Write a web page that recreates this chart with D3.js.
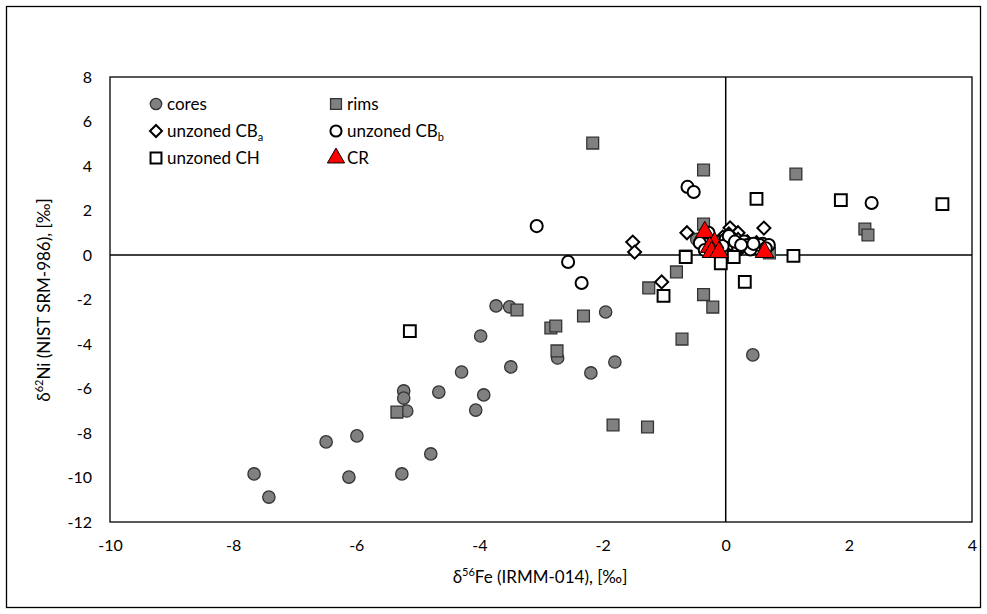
<!DOCTYPE html>
<html lang="en">
<head>
<meta charset="utf-8">
<title>Fe-Ni isotopes</title>
<script src="https://cdn.jsdelivr.net/npm/d3@7"></script>
<style>
  body { margin: 0; background: #fff; }
  text { font-family: Lato, "Open Sans", sans-serif; fill: #000; }
</style>
</head>
<body>
<script>
// series values [d56Fe, d62Ni]
var cores = [[-3.73,-2.29],[-3.51,-2.33],[-3.98,-3.64],[-4.29,-5.26],[-5.23,-6.11],[-5.23,-6.43],
  [-4.66,-6.16],[-3.93,-6.29],[-5.18,-7.01],[-4.06,-6.97],[-6.49,-8.40],[-5.99,-8.13],[-4.79,-8.94],
  [-6.12,-9.98],[-5.26,-9.84],[-7.66,-9.84],[-7.42,-10.88],[-1.95,-2.56],[-2.73,-4.63],[-3.49,-5.03],
  [-2.19,-5.30],[-1.80,-4.81],[0.44,-4.49],[-0.47,0.70]];
var rims = [[-2.16,5.03],[-0.36,3.82],[1.14,3.64],[-0.36,1.39],[2.26,1.17],[2.31,0.90],[0.71,0.09],
  [-0.65,-0.05],[-0.80,-0.76],[-1.25,-1.48],[-0.36,-1.78],[-0.21,-2.34],[-3.39,-2.47],[-2.31,-2.74],
  [-2.84,-3.28],[-2.76,-3.19],[-0.71,-3.78],[-2.74,-4.31],[-5.34,-7.06],[-1.83,-7.64],[-1.27,-7.73]];
var cbA = [[-1.51,0.58],[-1.48,0.13],[-1.04,-1.21],[-0.63,1.00],[0.07,1.22],[0.20,1.00],[0.62,1.21],
  [0.05,0.95],[-0.05,0.80],[0.20,0.70],[0.30,0.50],[0.40,0.40],[0.50,0.55],[0.15,0.45],[-0.10,0.60],
  [0.00,0.50],[0.25,0.30],[0.45,0.35],[0.10,0.75],[0.35,0.60]];
var cbB = [[-3.07,1.30],[-2.56,-0.31],[-2.34,-1.26],[-0.62,3.06],[-0.52,2.83],[2.37,2.34],[-0.28,1.00],
  [-0.42,0.54],[-0.34,0.22],[0.00,0.70],[0.10,0.50],[0.30,0.60],[0.50,0.30],[0.60,0.50],[0.20,0.35],
  [0.35,0.45],[0.55,0.45],[0.70,0.45],[-0.05,0.40],[0.40,0.25],[0.65,0.30],[0.05,0.85],[0.15,0.60],
  [0.25,0.45],[0.45,0.50]];
var ch = [[-5.13,-3.42],[0.50,2.52],[1.87,2.47],[3.52,2.29],[1.10,-0.04],[-0.65,-0.09],[-0.08,-0.37],
  [0.13,-0.09],[0.31,-1.21],[-1.01,-1.84]];
var cr = [[-0.34,1.03],[-0.18,0.54],[-0.26,0.36],[-0.23,0.13],[-0.11,0.13],[0.63,0.13]];

var xTicks = [-10,-8,-6,-4,-2,0,2,4];
var yTicks = [-12,-10,-8,-6,-4,-2,0,2,4,6,8];

var W = 987, H = 614;
var svg = d3.select("body").append("svg").attr("width", W).attr("height", H);

// outer chart border
svg.append("rect").attr("x", 6.5).attr("y", 6.5).attr("width", W - 13).attr("height", H - 13)
  .attr("fill", "none").attr("stroke", "#000").attr("stroke-width", 1.3);

var xScale = d3.scaleLinear().domain([-10, 4]).range([110, 972]);
var yScale = d3.scaleLinear().domain([-12, 8]).range([522, 77]);

// plot frame
svg.append("rect").attr("x", xScale(-10)).attr("y", yScale(8))
  .attr("width", xScale(4) - xScale(-10)).attr("height", yScale(-12) - yScale(8))
  .attr("fill", "none").attr("stroke", "#000").attr("stroke-width", 1.3);

// zero lines
svg.append("line").attr("x1", xScale(-10)).attr("x2", xScale(4)).attr("y1", yScale(0)).attr("y2", yScale(0))
  .attr("stroke", "#000").attr("stroke-width", 1.5);
svg.append("line").attr("x1", xScale(0)).attr("x2", xScale(0)).attr("y1", yScale(8)).attr("y2", yScale(-12))
  .attr("stroke", "#000").attr("stroke-width", 1.5);

// tick labels via axes (no tick lines), plain hyphen minus
var fmt = function(d) { return String(d); };
var xAxis = d3.axisBottom(xScale).tickValues(xTicks).tickSize(0).tickPadding(18).tickFormat(fmt);
var gx = svg.append("g").attr("transform", "translate(0," + yScale(-12) + ")").call(xAxis);
var yAxis = d3.axisLeft(yScale).tickValues(yTicks).tickSize(0).tickPadding(18).tickFormat(fmt);
var gy = svg.append("g").attr("transform", "translate(" + xScale(-10) + ",0)").call(yAxis);
[gx, gy].forEach(function(g) {
  g.select(".domain").remove();
  g.selectAll("text").attr("font-size", 16).attr("font-family", "Lato, sans-serif").attr("fill", "#000");
});

// axis titles
var xt = svg.append("text").attr("x", 540).attr("y", 583).attr("text-anchor", "middle").attr("font-size", 17);
xt.append("tspan").text("δ");
xt.append("tspan").attr("font-size", 11).attr("dy", -7).text("56");
xt.append("tspan").attr("dy", 7).text("Fe (IRMM-014), [‰]");

var yt = svg.append("text").attr("transform", "translate(50,300) rotate(-90)").attr("text-anchor", "middle").attr("font-size", 17);
yt.append("tspan").text("δ");
yt.append("tspan").attr("font-size", 11).attr("dy", -7).text("62");
yt.append("tspan").attr("dy", 7).text("Ni (NIST SRM-986), [‰]");

// marker drawing
var styles = {
  cores: {shape: d3.symbolCircle, size: 120, fill: "#808080", stroke: "#333", sw: 1.3, rot: 0},
  rims:  {shape: d3.symbolSquare, size: 140, fill: "#808080", stroke: "#333", sw: 1.3, rot: 0},
  cbA:   {shape: d3.symbolSquare, size: 85, fill: "#fff", stroke: "#000", sw: 2, rot: 45},
  cbB:   {shape: d3.symbolCircle, size: 115, fill: "#fff", stroke: "#000", sw: 2, rot: 0},
  ch:    {shape: d3.symbolSquare, size: 140, fill: "#fff", stroke: "#000", sw: 2, rot: 0},
  cr:    {shape: d3.symbolTriangle, size: 150, fill: "#ff0000", stroke: "#000", sw: 1, rot: 0}
};

function drawSeries(data, st) {
  svg.append("g").selectAll("path").data(data).enter().append("path")
    .attr("d", d3.symbol().type(st.shape).size(st.size))
    .attr("transform", function(d) {
      return "translate(" + xScale(d[0]) + "," + yScale(d[1]) + ") rotate(" + st.rot + ")";
    })
    .attr("fill", st.fill).attr("stroke", st.stroke).attr("stroke-width", st.sw);
}
drawSeries(cores, styles.cores);
drawSeries(rims, styles.rims);
drawSeries(cbA, styles.cbA);
drawSeries(cbB, styles.cbB);
drawSeries(ch, styles.ch);
drawSeries(cr, styles.cr);

// legend
var legend = [
  {key: "cores", x: 156, y: 104, label: ["cores"]},
  {key: "rims", x: 336, y: 104, label: ["rims"]},
  {key: "cbA", x: 156, y: 131, label: ["unzoned CB", "a"]},
  {key: "cbB", x: 336, y: 131, label: ["unzoned CB", "b"]},
  {key: "ch", x: 156, y: 158, label: ["unzoned CH"]},
  {key: "cr", x: 336, y: 158, label: ["CR"]}
];
legend.forEach(function(l) {
  var st = styles[l.key];
  svg.append("path").attr("d", d3.symbol().type(st.shape).size(st.size * 0.85))
    .attr("transform", "translate(" + l.x + "," + l.y + ") rotate(" + st.rot + ")")
    .attr("fill", st.fill).attr("stroke", st.stroke).attr("stroke-width", st.sw);
  var t = svg.append("text").attr("x", l.x + 11).attr("y", l.y + 6).attr("font-size", 17);
  t.append("tspan").text(l.label[0]);
  if (l.label[1]) t.append("tspan").attr("font-size", 11).attr("dy", 4).text(l.label[1]);
});
</script>
</body>
</html>
